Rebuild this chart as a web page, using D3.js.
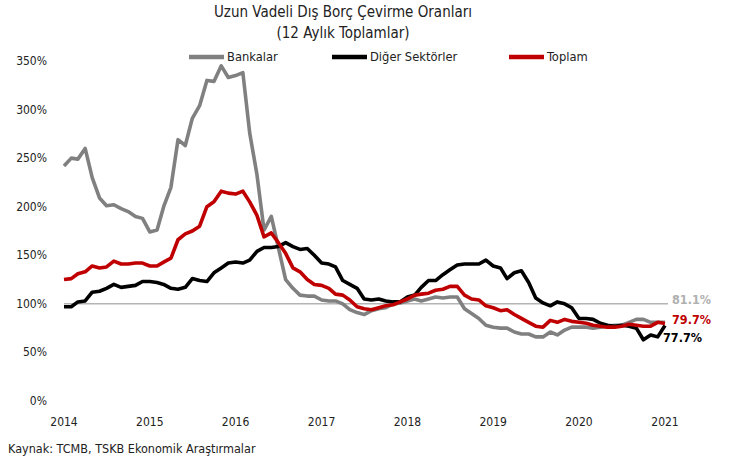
<!DOCTYPE html>
<html>
<head>
<meta charset="utf-8">
<script src="https://cdn.jsdelivr.net/npm/d3@7"></script>
<style>
  body { margin: 0; background: #fff; }
  svg text { font-family: "Liberation Sans Narrow", "DejaVu Sans Condensed", sans-serif; fill: #222; }
</style>
</head>
<body>
<div id="chart"></div>
<script>
// monthly, Jan 2014 .. Jan 2021
const startMonth = new Date(2014, 0, 1);
const bankalar = [242, 250, 249, 260, 230, 209, 201, 202, 198, 195, 190, 188,
  174, 176, 200, 220, 269, 263, 291, 304, 330, 329, 345, 333,
  335, 338, 276, 233, 176, 190, 158, 125, 116, 109, 108, 108,
  104, 103, 103, 100, 94, 91, 89, 93, 95, 96, 100, 101,
  103, 105, 103, 105, 107, 106, 107, 107, 95, 90, 85, 78,
  76, 75, 75, 71, 69, 69, 66, 66, 71, 68, 73, 76,
  76, 76, 75, 76, 77, 78, 78, 81, 84, 84, 81, 81,
  81.1];
const digerSektorler = [97, 97, 102, 103, 112, 113, 116, 120, 117, 118, 119, 123,
  123, 122, 120, 116, 115, 117, 126, 124, 123, 132, 137, 142,
  143, 142, 145, 154, 158, 158, 159, 163, 159, 156, 157, 150,
  142, 141, 138, 124, 120, 116, 105, 104, 105, 103, 102, 102,
  107, 109, 117, 124, 124, 130, 135, 140, 141, 141, 141, 145,
  139, 137, 126, 132, 134, 122, 106, 101, 98, 102, 100, 96,
  85, 85, 84, 80, 78, 77, 78, 77, 75, 63, 68, 66,
  77.7];
const toplam = [125, 126, 131, 133, 139, 137, 138, 144, 141, 141, 142, 142,
  139, 139, 143, 147, 166, 172, 175, 180, 200, 205, 216, 214,
  213, 216, 205, 191, 169, 173, 163, 152, 137, 133, 125, 120,
  119, 116, 110, 109, 104, 97, 95, 94, 96, 98, 99, 102,
  105, 109, 110, 111, 114, 115, 118, 118, 109, 105, 104, 98,
  96, 93, 94, 89, 85, 81, 77, 76, 83, 81, 84, 82,
  81, 80, 78, 77, 76, 76, 77, 79, 78, 77, 77, 81,
  79.7];
const seriesNames = ["Bankalar", "Diğer Sektörler", "Toplam"];
const seriesColors = ["#808080", "#000000", "#c00000"];
const yTicks = [0, 50, 100, 150, 200, 250, 300, 350];
const xTickYears = [2014, 2015, 2016, 2017, 2018, 2019, 2020, 2021];
const refLine = 100;

const W = 734, H = 463;
const svg = d3.select('#chart').append('svg')
  .attr('width', W).attr('height', H);

const x = d3.scaleTime()
  .domain([new Date(2014, 0, 1), new Date(2021, 0, 1)])
  .range([64, 665]);
const y = d3.scaleLinear().domain([0, 350]).range([401, 61]);

const monthOf = i => d3.timeMonth.offset(startMonth, i);

// titles
svg.append('text').attr('x', 343).attr('y', 17).attr('text-anchor', 'middle')
  .style('font-size', '15px').text('Uzun Vadeli Dış Borç Çevirme Oranları');
svg.append('text').attr('x', 343).attr('y', 38).attr('text-anchor', 'middle')
  .style('font-size', '15px').text('(12 Aylık Toplamlar)');

// y axis labels
svg.append('g').selectAll('text').data(yTicks).enter().append('text')
  .attr('x', 47).attr('y', d => y(d) + 4)
  .attr('text-anchor', 'end')
  .style('font-size', '12px')
  .text(d => d + '%');

// x axis labels
svg.append('g').selectAll('text').data(xTickYears).enter().append('text')
  .attr('x', d => x(new Date(d, 0, 1)))
  .attr('y', 426)
  .attr('text-anchor', 'middle')
  .style('font-size', '12px')
  .text(d => d);

// 100% reference line
svg.append('line')
  .attr('x1', x(new Date(2014, 0, 1))).attr('x2', 668)
  .attr('y1', y(refLine)).attr('y2', y(refLine))
  .attr('stroke', '#b4b4b4').attr('stroke-width', 1.5);

const line = d3.line()
  .x((d, i) => x(monthOf(i)))
  .y(d => y(d))
  .curve(d3.curveLinear);

[bankalar, digerSektorler, toplam].forEach((s, k) => {
  svg.append('path')
    .datum(s)
    .attr('d', line)
    .attr('fill', 'none')
    .attr('stroke', seriesColors[k])
    .attr('stroke-width', 3.6)
    .attr('stroke-linejoin', 'round');
});

// end labels
const endLabels = [
  { v: bankalar[bankalar.length - 1], color: '#b0b0b0', x: 672, y: 304 },
  { v: toplam[toplam.length - 1], color: '#c00000', x: 672, y: 324 },
  { v: digerSektorler[digerSektorler.length - 1], color: '#000000', x: 663, y: 342 }
];
svg.append('g').selectAll('text').data(endLabels).enter().append('text')
  .attr('x', d => d.x).attr('y', d => d.y)
  .style('font-size', '12.5px').style('font-weight', 'bold')
  .style('fill', d => d.color)
  .text(d => d.v.toFixed(1) + '%');

// legend
const legendPos = [189, 332, 509];
const lg = svg.append('g').selectAll('g').data(seriesNames).enter().append('g')
  .attr('transform', (d, i) => `translate(${legendPos[i]},57)`);
lg.append('line').attr('x1', 0).attr('x2', 35).attr('y1', 0).attr('y2', 0)
  .attr('stroke', (d, i) => seriesColors[i]).attr('stroke-width', 4.5);
lg.append('text').attr('x', 38).attr('y', 4)
  .style('font-size', '12.8px').text(d => d);

// source
svg.append('text').attr('x', 8).attr('y', 453)
  .style('font-size', '12.5px').text('Kaynak: TCMB, TSKB Ekonomik Araştırmalar');
</script>
</body>
</html>
